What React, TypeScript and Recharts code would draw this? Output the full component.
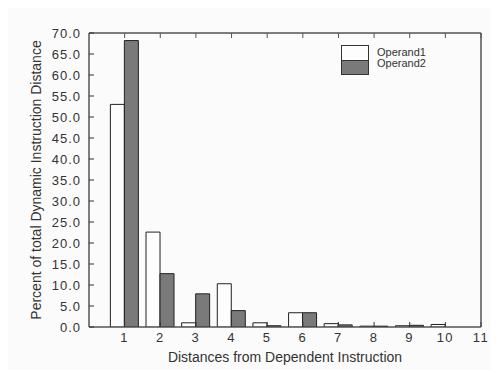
import React from 'react';
import { BarChart, Bar, XAxis, YAxis, ReferenceArea } from 'recharts';

const distances = [1, 2, 3, 4, 5, 6, 7, 8, 9, 10];
const operand1 = [53.0, 22.6, 1.0, 10.3, 1.0, 3.4, 0.8, 0.2, 0.3, 0.6];
const operand2 = [68.2, 12.7, 7.9, 3.9, 0.3, 3.4, 0.5, 0.2, 0.4, 0.0];
const xTicks = [1, 2, 3, 4, 5, 6, 7, 8, 9, 10, 11];
const yTicks = [0, 5, 10, 15, 20, 25, 30, 35, 40, 45, 50, 55, 60, 65, 70];
const seriesNames = ['Operand1', 'Operand2'];

const data = distances.map((d, i) => ({ d, op1: operand1[i], op2: operand2[i] }));

const FONT = '"Liberation Sans", Arial, sans-serif';
const TXT = '#333';
const FRAME = '#555';

const EmptyTick = () => <g />;

const YLabel = (props: any) => {
  const vb = props.viewBox || {};
  const cx = 36;
  const cy = vb.y + vb.height / 2;
  return (
    <text
      x={cx}
      y={cy}
      transform={`rotate(-90, ${cx}, ${cy})`}
      textAnchor="middle"
      dominantBaseline="central"
      fontSize={14}
      fontFamily={FONT}
      fill={TXT}
    >
      Percent of total Dynamic Instruction Distance
    </text>
  );
};

const LegendBox = () => (
  <div style={{ position: 'absolute', left: 341, top: 45, display: 'flex', fontFamily: FONT, fontSize: 11, color: TXT }}>
    <div style={{ width: 28, border: '1px solid #333', boxSizing: 'border-box' }}>
      <div style={{ height: 14, background: '#fdfdfd', borderBottom: '1px solid #333' }} />
      <div style={{ height: 13, background: '#7a7a7a' }} />
    </div>
    <div style={{ marginLeft: 8, lineHeight: '11px', marginTop: 2 }}>
      <div>{seriesNames[0]}</div>
      <div>{seriesNames[1]}</div>
    </div>
  </div>
);

export default function App() {
  return (
    <div style={{ margin: -8, position: 'relative', width: 499, height: 378, background: '#fbfbfb' }}>
      <BarChart
        width={499}
        height={378}
        data={data}
        margin={{ top: 28, right: 0, bottom: 0, left: 0 }}
        barGap={0}
        barCategoryGap="10%"
      >
        <XAxis
          xAxisId="xb"
          dataKey="d"
          type="number"
          domain={[0, 11]}
          ticks={xTicks}
          interval={0}
          allowDataOverflow
          height={51}
          tickSize={-5}
          tickMargin={11}
          axisLine={{ stroke: FRAME }}
          tickLine={{ stroke: '#333' }}
          tick={{ fill: TXT, fontSize: 13, fontFamily: FONT, letterSpacing: 1.5 }}
          label={{ value: 'Distances from Dependent Instruction', position: 'insideBottom', offset: 16, fill: TXT, fontSize: 14, fontFamily: FONT }}
        />
        <XAxis
          xAxisId="xt"
          orientation="top"
          dataKey="d"
          type="number"
          domain={[0, 11]}
          ticks={xTicks}
          interval={0}
          height={5}
          tickSize={-5}
          tick={<EmptyTick />}
          stroke={FRAME}
        />
        <YAxis
          yAxisId="yl"
          domain={[0, 70]}
          ticks={yTicks}
          interval={0}
          allowDataOverflow
          width={89}
          tickSize={-5}
          tickMargin={13}
          tickFormatter={(v: number) => v.toFixed(1)}
          axisLine={{ stroke: FRAME }}
          tickLine={{ stroke: '#333' }}
          tick={{ fill: TXT, fontSize: 13, fontFamily: FONT, letterSpacing: 1 }}
          label={<YLabel />}
        />
        <YAxis
          yAxisId="yr"
          orientation="right"
          domain={[0, 70]}
          ticks={yTicks}
          interval={0}
          width={18}
          tickSize={-5}
          tick={<EmptyTick />}
          stroke={FRAME}
        />
        <ReferenceArea
          xAxisId="xb"
          yAxisId="yl"
          x1={0}
          x2={11}
          y1={0}
          y2={70}
          fill="none"
          stroke={FRAME}
          ifOverflow="visible"
        />
        <Bar
          xAxisId="xb"
          yAxisId="yl"
          dataKey="op1"
          name={seriesNames[0]}
          fill="#fdfdfd"
          stroke="#222"
          strokeWidth={1}
          isAnimationActive={false}
        />
        <Bar
          xAxisId="xb"
          yAxisId="yl"
          dataKey="op2"
          name={seriesNames[1]}
          fill="#7a7a7a"
          stroke="#222"
          strokeWidth={1}
          isAnimationActive={false}
        />
      </BarChart>
      <LegendBox />
    </div>
  );
}
